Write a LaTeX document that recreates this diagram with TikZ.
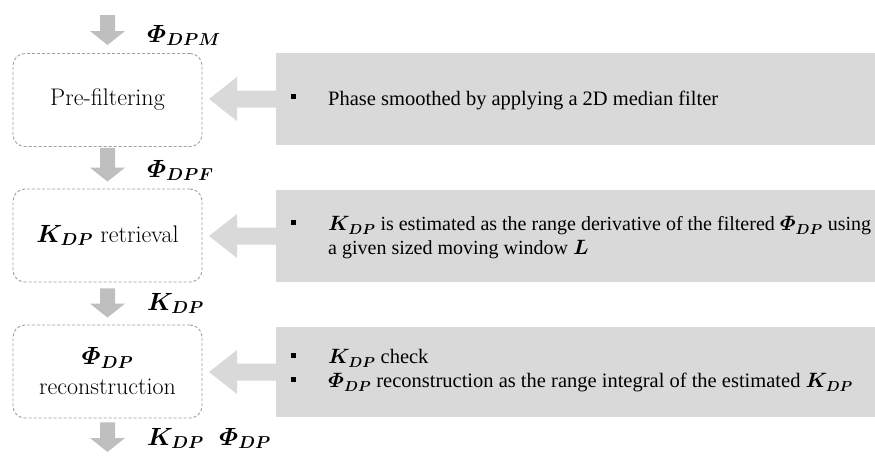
\documentclass[tikz,border=0pt]{standalone}
\usepackage{amsmath}
\usepackage{bm}
\usepackage{fontspec}
\newfontfamily\tnr{Liberation Serif}
\usetikzlibrary{calc}
\definecolor{arrowgray}{HTML}{BFBFBF}
\definecolor{callgray}{HTML}{D9D9D9}
\definecolor{boxline}{HTML}{A0A0A0}
\newcommand\bul{\llap{\raisebox{6pt}{\rule{5pt}{5pt}}\hspace{32pt}}}
\newcommand\grayarrow[2]{%
  \fill[arrowgray] ($(#1)+(-7.5,0)$) -- ($(#2)+(-7.5,-14)$) -- ($(#2)+(-17.5,-14)$)
    -- (#2) -- ($(#2)+(17.5,-14)$) -- ($(#2)+(7.5,-14)$) -- ($(#1)+(7.5,0)$) -- cycle;}
\newcommand\bigarrow[1]{%
  \fill[callgray] ($(#1.west)+(1,-8.5)$) -- ($(#1.west)+(-39,-8.5)$) -- ($(#1.west)+(-39,-22)$)
    -- ($(#1.west)+(-67,0)$) -- ($(#1.west)+(-39,22)$) -- ($(#1.west)+(-39,8.5)$)
    -- ($(#1.west)+(1,8.5)$) -- cycle;}
\begin{document}
\begin{tikzpicture}[x=1pt,y=-1pt,
  procbox/.style={draw=boxline, dash pattern=on 3pt off 2pt, line width=0.9pt,
    rounded corners=12pt, minimum width=189pt, minimum height=93pt, align=center,
    font=\fontsize{24}{30}\selectfont, inner sep=0pt},
  callout/.style={fill=callgray, minimum width=599pt, anchor=west, inner sep=0pt},
  bultext/.style={anchor=west, align=left, inner sep=0pt, font=\tnr\fontsize{20.5}{24}\selectfont},
  flowlabel/.style={anchor=base west, inner sep=0pt, font=\fontsize{24}{28}\selectfont}]
\useasboundingbox (0,0) rectangle (875,455);

% process boxes
\node[procbox] (b1) at (107.5,100) {Pre-filtering};
\node[procbox] (b2) at (107.5,235.5) {$\bm{K}_{\bm{DP}}$ retrieval};
\node[procbox] (b3) at (107.5,371.5) {$\bm{\varPhi}_{\bm{DP}}$\\reconstruction};

% callout rectangles
\node[callout, minimum height=92pt] (r1) at (276,99) {};
\node[callout, minimum height=92pt] (r2) at (276,236) {};
\node[callout, minimum height=90pt] (r3) at (276,372) {};
\bigarrow{r1}
\bigarrow{r2}
\bigarrow{r3}

% callout texts
\node[bultext] (t1) at (328,100) {\bul Phase smoothed by applying a 2D median filter};
\node[bultext, font=\tnr\fontsize{20}{24}\selectfont] (t2) at (328,238) {\bul $\bm{K}_{\bm{DP}}$ is estimated as the range derivative of the filtered $\bm{\varPhi}_{\bm{DP}}$ using\\a given sized moving window $\bm{L}$};
\node[bultext] (t3) at (328,371) {\bul $\bm{K}_{\bm{DP}}$ check\\\bul $\bm{\varPhi}_{\bm{DP}}$ reconstruction as the range integral of the estimated $\bm{K}_{\bm{DP}}$};

% flow arrows
\coordinate (in) at (107.5,15);
\coordinate (inend) at (107.5,45);
\coordinate (out) at (107.5,452);
\grayarrow{in}{inend}
\grayarrow{$(b1.south)+(0,1)$}{$(b2.north)+(0,-7)$}
\grayarrow{$(b2.south)+(0,6)$}{$(b3.north)+(0,-7)$}
\grayarrow{$(b3.south)+(0,4)$}{out}

% flow labels
\node[flowlabel] (l0) at (147,42) {$\bm{\varPhi}_{\bm{DPM}}$};
\node[flowlabel] (l1) at (147,177) {$\bm{\varPhi}_{\bm{DPF}}$};
\node[flowlabel] (l2) at (147,310) {$\bm{K}_{\bm{DP}}$};
\node[flowlabel] (l3) at (147,445) {$\bm{K}_{\bm{DP}}$};
\node[flowlabel] (l4) at (219,445) {$\bm{\varPhi}_{\bm{DP}}$};
\end{tikzpicture}
\end{document}
